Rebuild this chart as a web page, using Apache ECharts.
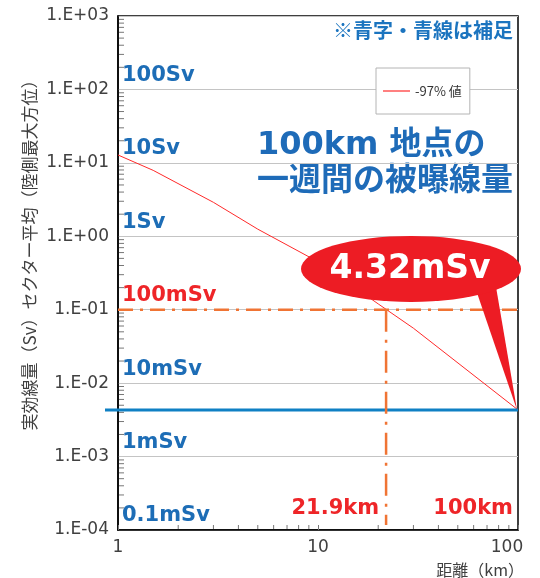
<!DOCTYPE html>
<html><head><meta charset="utf-8">
<script src="https://cdn.jsdelivr.net/npm/echarts@6/dist/echarts.min.js"></script>
<style>html,body{margin:0;padding:0;background:#fff}#c{width:540px;height:578px}</style>
</head><body><div id="c"></div>
<script>
// ---- data ----
const distances = [1, 1.5, 3, 5, 10, 20, 30, 100];
const dose97 = [12.8, 7.9, 2.9, 1.25, 0.45, 0.12, 0.056, 0.00432];
const seriesName = '-97% 値';
const doseAt100km = 0.00432;
const calloutText = '4.32mSv';
const thresholdDose = 0.1;
const thresholdDistance = 21.9;
const levelValues = [100, 10, 1, 0.1, 0.01, 0.001, 0.0001];
const levelNames = ['100Sv', '10Sv', '1Sv', '100mSv', '10mSv', '1mSv', '0.1mSv'];
const distanceMarks = [21.9, 100];
const distanceMarkNames = ['21.9km', '100km'];
const xMin = 1, xMax = 100, yMin = 0.0001, yMax = 1000;
const yDecades = [-4, -3, -2, -1, 0, 1, 2];
const xDecades = [0, 1];
const minorSteps = [2, 3, 4, 5, 6, 7, 8, 9];

const BLUE = '#1d6db6', RED = '#ee2528', ORANGE = '#f07434', LINEBLUE = '#0f80c4';
const AXFONT = '"DejaVu Sans", sans-serif';

// axis minor ticks (decoration)
const minorData = [];
xDecades.forEach(d => minorSteps.forEach(k => minorData.push([k * Math.pow(10, d), yMin, 0])));
yDecades.forEach(d => minorSteps.forEach(k => minorData.push([xMin, k * Math.pow(10, d), 1])));

function fmtY(v) {
  const e = Math.round(Math.log10(v));
  const a = Math.abs(e);
  return '1.E' + (e >= 0 ? '+' : '-') + (a < 10 ? '0' : '') + a;
}

const chart = echarts.init(document.getElementById('c'), null, {renderer: 'canvas'});
chart.setOption({
  animation: false,
  backgroundColor: '#fff',
  grid: {left: 118, right: 22, top: 16, bottom: 48, show: true, borderColor: '#000', borderWidth: 1.5},
  legend: {
    data: [seriesName], left: 376, top: 68, orient: 'vertical',
    icon: 'rect', itemWidth: 27, itemHeight: 1.2,
    padding: [15, 8, 15, 7], itemGap: 4,
    backgroundColor: '#fff', borderColor: '#b4b4b4', borderWidth: 1,
    textStyle: {fontFamily: '"Liberation Sans Narrow", "Noto Sans CJK JP", sans-serif', fontSize: 13, color: '#333', lineHeight: 16}
  },
  xAxis: {
    type: 'log', logBase: 10, min: xMin, max: xMax,
    axisLine: {show: true, lineStyle: {color: '#000', width: 1.5}},
    axisTick: {show: true, inside: true, length: 5, lineStyle: {color: '#777'}},
    splitLine: {show: false},
    axisLabel: {
      margin: 9, color: '#404040', fontFamily: AXFONT, fontSize: 17,
      formatter: v => v >= 100 ? '{r|' + v + '}' : String(v),
      rich: {r: {fontFamily: AXFONT, fontSize: 17, color: '#404040', padding: [0, 22, 0, 0]}}
    }
  },
  yAxis: {
    type: 'log', logBase: 10, min: yMin, max: yMax,
    axisLine: {show: true, lineStyle: {color: '#000', width: 1.5}},
    axisTick: {show: false},
    splitLine: {show: true, lineStyle: {color: '#c4c4c4', width: 1}},
    axisLabel: {margin: 9, color: '#404040', fontFamily: AXFONT, fontSize: 17, formatter: fmtY}
  },
  graphic: [
    {type: 'text', x: 513, y: 30, style: {text: '※青字・青線は補足', fill: '#1b74bf', font: 'bold 20px "Noto Sans CJK JP"', align: 'right', verticalAlign: 'middle'}},
    {type: 'text', x: 257, y: 146, style: {text: '100km 地点の', fill: '#1e6bb8', font: 'bold 32px "DejaVu Sans", "Noto Sans CJK JP"', align: 'left', verticalAlign: 'middle'}},
    {type: 'text', x: 257, y: 178, style: {text: '一週間の被曝線量', fill: '#1e6bb8', font: 'bold 32px "Noto Sans CJK JP"', align: 'left', verticalAlign: 'middle'}},
    {type: 'text', x: 30, y: 251, rotation: Math.PI / 2, style: {text: '実効線量（Sv）セクター平均（陸側最大方位）', fill: '#404040', font: '17px "Noto Sans CJK JP"', align: 'center', verticalAlign: 'middle'}},
    {type: 'text', x: 524, y: 570, style: {text: '距離（km）', fill: '#404040', font: '16px "Noto Sans CJK JP"', align: 'right', verticalAlign: 'middle'}}
  ],
  series: [
    {
      type: 'custom', name: 'minor', silent: true, z: 3,
      data: minorData,
      renderItem: (params, api) => {
        const p = api.coord([api.value(0), api.value(1)]);
        if (api.value(2) === 0) {
          return {type: 'line', shape: {x1: p[0], y1: p[1] - 1, x2: p[0], y2: p[1] - 5}, style: {stroke: '#777', lineWidth: 1}};
        }
        return {type: 'line', shape: {x1: p[0] + 1, y1: p[1], x2: p[0] + 6, y2: p[1]}, style: {stroke: '#777', lineWidth: 1}};
      }
    },
    {
      type: 'line', name: seriesName, symbol: 'none', z: 4,
      data: distances.map((d, i) => [d, dose97[i]]),
      lineStyle: {color: '#ff2a2a', width: 1},
      itemStyle: {color: '#ff2a2a'}
    },
    {
      type: 'custom', name: 'refs', silent: true, z: 5,
      data: [[thresholdDistance, thresholdDose, doseAt100km]],
      renderItem: (params, api) => {
        const xd = api.value(0), th = api.value(1), dv = api.value(2);
        const b0 = api.coord([xMin, dv]), b1 = api.coord([xMax, dv]);
        const h0 = api.coord([xMin, th]), h1 = api.coord([xMax, th]);
        const v0 = api.coord([xd, th]), v1 = api.coord([xd, yMin]);
        return {type: 'group', children: [
          {type: 'line', shape: {x1: b0[0] - 13, y1: b0[1], x2: b1[0], y2: b1[1]}, style: {stroke: LINEBLUE, lineWidth: 3}},
          {type: 'line', shape: {x1: h0[0], y1: h0[1], x2: h1[0], y2: h1[1]}, style: {stroke: ORANGE, lineWidth: 2.5, lineDash: [15, 7, 3, 7]}},
          {type: 'line', shape: {x1: v0[0], y1: v0[1], x2: v1[0], y2: v1[1] - 5}, style: {stroke: ORANGE, lineWidth: 2.5, lineDash: [22, 8, 3, 8]}}
        ]};
      }
    },
    {
      type: 'custom', name: 'levels', silent: true, z: 6,
      data: levelValues.map((v, i) => [xMin, v, i]),
      renderItem: (params, api) => {
        const i = api.value(2);
        const p = api.coord([api.value(0), api.value(1)]);
        return {type: 'text', x: p[0] + 4, y: p[1] - 14, style: {text: levelNames[i], fill: i === 3 ? RED : BLUE, font: 'bold 21px "DejaVu Sans"', align: 'left', verticalAlign: 'middle'}};
      }
    },
    {
      type: 'custom', name: 'dist', silent: true, z: 6,
      data: distanceMarks.map((d, i) => [d, yMin, i]),
      renderItem: (params, api) => {
        const i = api.value(2);
        const p = api.coord([api.value(0), api.value(1)]);
        return {type: 'text', x: p[0] - (i === 0 ? 7 : 5), y: p[1] - 21, style: {text: distanceMarkNames[i], fill: RED, font: 'bold 21px "DejaVu Sans"', align: 'right', verticalAlign: 'middle'}};
      }
    },
    {
      type: 'custom', name: 'callout', silent: true, z: 8,
      data: [[xMax, doseAt100km]],
      renderItem: (params, api) => {
        const tip = api.coord([api.value(0), api.value(1)]);
        const cx = tip[0] - 107, cy = tip[1] - 141;
        return {type: 'group', children: [
          {type: 'polygon', shape: {points: [[cx + 64, cy + 18], [cx + 84, cy + 12], [tip[0] - 1, tip[1]]]}, style: {fill: '#ed1c24'}},
          {type: 'circle', x: cx, y: cy, scaleX: 110 / 33, scaleY: 1, shape: {cx: 0, cy: 0, r: 33}, style: {fill: '#ed1c24'}},
          {type: 'text', x: cx - 1, y: cy + 1, style: {text: calloutText, fill: '#fff', font: 'bold 33px "DejaVu Sans"', align: 'center', verticalAlign: 'middle'}}
        ]};
      }
    }
  ]
});
</script></body></html>
